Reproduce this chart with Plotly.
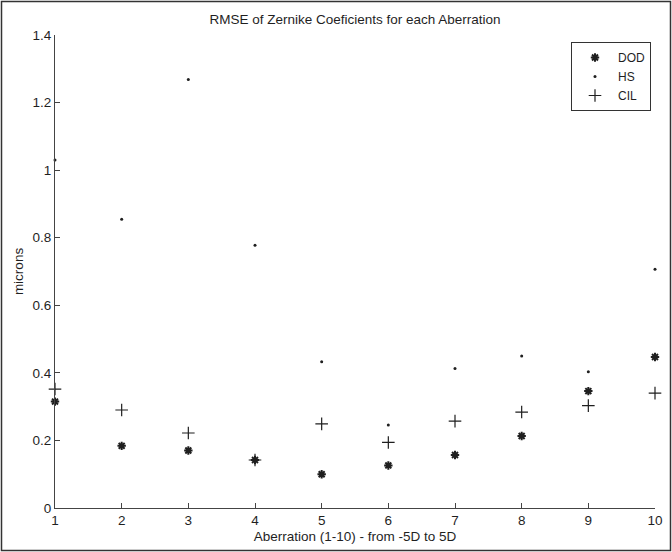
import plotly.graph_objects as go

aberration = [1, 2, 3, 4, 5, 6, 7, 8, 9, 10]
dod = [0.315, 0.184, 0.170, 0.142, 0.100, 0.126, 0.157, 0.213, 0.346, 0.447]
hs = [1.030, 0.855, 1.268, 0.778, 0.433, 0.246, 0.413, 0.450, 0.403, 0.707]
cil = [0.352, 0.290, 0.222, 0.142, 0.249, 0.194, 0.257, 0.284, 0.303, 0.340]
x_ticks = [1, 2, 3, 4, 5, 6, 7, 8, 9, 10]
y_ticks = [0, 0.2, 0.4, 0.6, 0.8, 1.0, 1.2, 1.4]
y_tick_text = ["0", "0.2", "0.4", "0.6", "0.8", "1", "1.2", "1.4"]

W, H = 672, 552
L, R, T, B = 55, 17, 35, 44
pw, ph = W - L - R, H - T - B
FS = 13.5

ink = "#1f1f1f"
fig = go.Figure()
fig.add_trace(go.Scatter(x=aberration, y=dod, mode="markers", name="DOD",
                         marker=dict(symbol="asterisk-open", size=7, color=ink,
                                     line=dict(width=2, color=ink)),
                         cliponaxis=False))
fig.add_trace(go.Scatter(x=aberration, y=hs, mode="markers", name="HS",
                         marker=dict(symbol="circle", size=3, color=ink, line=dict(width=0)),
                         cliponaxis=False))
fig.add_trace(go.Scatter(x=aberration, y=cil, mode="markers", name="CIL",
                         marker=dict(symbol="cross-thin-open", size=9, color=ink,
                                     line=dict(width=1.2, color=ink)),
                         cliponaxis=False))

def px_x(p):
    return (p - L) / pw

def px_y(p):
    return (H - B - p) / ph

fig.add_shape(type="rect", xref="paper", yref="paper",
              x0=px_x(1.5), x1=px_x(670.5), y0=px_y(550.5), y1=px_y(1.5),
              line=dict(color="#333", width=1.5), layer="below")

fig.update_layout(
    width=W, height=H,
    margin=dict(l=L, r=R, t=T, b=B, autoexpand=False),
    paper_bgcolor="white", plot_bgcolor="white",
    font=dict(family="Liberation Sans, Arial, sans-serif", size=FS, color=ink),
    title=dict(text="RMSE of Zernike Coeficients for each Aberration",
               x=(L + pw / 2) / W, xanchor="center", y=1 - 19 / H, yanchor="middle",
               font=dict(size=FS, color=ink)),
    showlegend=True,
    legend=dict(x=px_x(651), xanchor="right", y=px_y(42), yanchor="top",
                bordercolor="#333", borderwidth=1, bgcolor="white",
                font=dict(size=12, color=ink), itemwidth=36,
                tracegroupgap=0),
)
fig.update_xaxes(range=[1, 10], tickvals=x_ticks, ticktext=[str(v) for v in x_ticks],
                 showgrid=False, zeroline=False, showline=True, linecolor="#444", linewidth=1,
                 ticks="inside", ticklen=5, tickcolor="#444", tickfont=dict(size=FS),
                 title=dict(text="Aberration (1-10) - from -5D to 5D", standoff=4,
                            font=dict(size=FS)))
fig.update_yaxes(range=[0, 1.4], tickvals=y_ticks, ticktext=y_tick_text,
                 showgrid=False, zeroline=False, showline=True, linecolor="#444", linewidth=1,
                 ticks="inside", ticklen=5, tickcolor="#444", tickfont=dict(size=FS),
                 title=dict(text="microns", standoff=5, font=dict(size=FS)))

fig.write_html("out.html", config={"displayModeBar": False},
               post_script="document.body.style.margin='0';")
